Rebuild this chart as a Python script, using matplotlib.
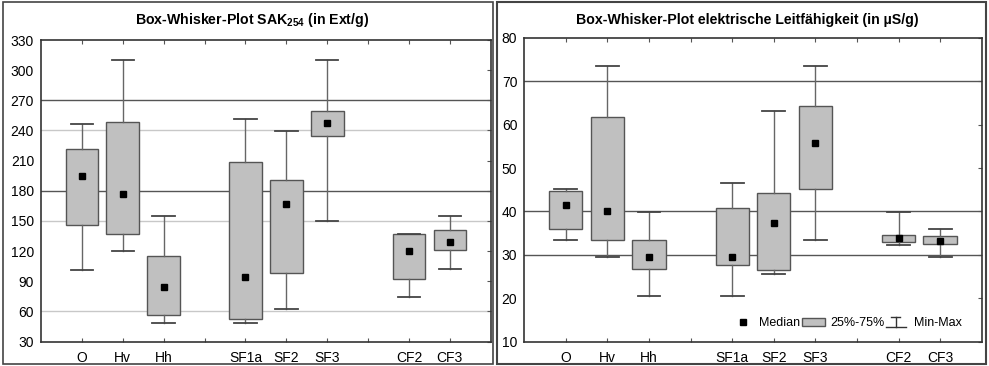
import numpy as np
import matplotlib
matplotlib.use('Agg')
import matplotlib.pyplot as plt
from matplotlib.patches import Rectangle, Patch
from matplotlib.lines import Line2D
from matplotlib.legend_handler import HandlerBase

plt.rcParams['font.family'] = ['Liberation Sans', 'DejaVu Sans']
plt.rcParams['mathtext.fontset'] = 'custom'
plt.rcParams['mathtext.rm'] = 'Liberation Sans'
plt.rcParams['mathtext.bf'] = 'Liberation Sans:bold'

categories = ['O', 'Hv', 'Hh', 'SF1a', 'SF2', 'SF3', 'CF2', 'CF3']
positions = [1, 2, 3, 5, 6, 7, 9, 10]

# SAK254 (Ext/g): min, q1, median, q3, max
sak_min = [101, 120, 48, 48, 62, 150, 74, 102]
sak_q1 = [146, 137, 56, 52, 98, 234, 92, 121]
sak_med = [195, 177, 84, 94, 167, 247, 120, 129]
sak_q3 = [222, 248, 115, 209, 191, 259, 137, 141]
sak_max = [246, 310, 155, 251, 239, 310, 137, 155]

# elektrische Leitfaehigkeit (uS/g)
lf_min = [33.4, 29.6, 20.6, 20.6, 25.6, 33.4, 32.2, 29.6]
lf_q1 = [36.0, 33.3, 26.8, 27.6, 26.4, 45.2, 32.9, 32.5]
lf_med = [41.5, 40.1, 29.4, 29.4, 37.3, 55.8, 33.9, 33.1]
lf_q3 = [44.8, 61.8, 33.4, 40.9, 44.3, 64.3, 34.5, 34.4]
lf_max = [45.2, 73.5, 39.8, 46.6, 63.2, 73.5, 39.8, 36.0]

sak_ticks = np.arange(30, 331, 30)
lf_ticks = np.arange(10, 81, 10)
sak_dark = [180, 270]
sak_light = [60, 150, 240]
lf_dark = [30, 40, 70]


class HandlerMinMax(HandlerBase):
    def create_artists(self, legend, orig_handle, xd, yd, width, height, fontsize, trans):
        cx = xd + width * 0.4
        top = yd + height * 1.05
        bot = yd - height * 0.05
        return [
            Line2D([cx, cx], [bot, top], color='#333', lw=1, transform=trans),
            Line2D([cx - width * 0.2, cx + width * 0.2], [top, top], color='#333', lw=1, transform=trans),
            Line2D([cx - width * 0.45, cx + width * 0.45], [bot, bot], color='#333', lw=1, transform=trans),
        ]


def draw_panel(ax, mins, q1s, meds, q3s, maxs, ylim, yticks, dark, light):
    stats = []
    for lo, a, m, b, hi in zip(mins, q1s, meds, q3s, maxs):
        stats.append({'whislo': lo, 'q1': a, 'med': m, 'mean': m, 'q3': b, 'whishi': hi, 'fliers': []})
    for v in dark:
        ax.axhline(v, color='#555555', lw=1.0, zorder=0)
    for v in light:
        ax.axhline(v, color='#c8c8c8', lw=1.0, zorder=0)
    ax.bxp(stats, positions=positions, widths=0.8, capwidths=0.55, patch_artist=True,
           showmeans=True, showfliers=False,
           boxprops=dict(facecolor='#c0c0c0', edgecolor='#555555', lw=1.0),
           whiskerprops=dict(color='#666666', lw=1.0),
           capprops=dict(color='#444444', lw=1.3),
           medianprops=dict(lw=0),
           meanprops=dict(marker='s', markerfacecolor='k', markeredgecolor='k', markersize=4.5))
    ax.set_xlim(0, 11)
    ax.set_ylim(*ylim)
    ax.set_yticks(yticks)
    ax.set_xticks(range(1, 11))
    labels = [''] * 10
    for c, p in zip(categories, positions):
        labels[p - 1] = c
    ax.set_xticklabels(labels)
    ax.tick_params(axis='x', direction='in', length=3, top=True, labelsize=10, color='#555', pad=7)
    ax.tick_params(axis='y', direction='in', length=3, labelsize=10, pad=5, left=False, right=True,
                   color='#555')
    for s in ax.spines.values():
        s.set_color('#333333')
        s.set_linewidth(1.2)


fig = plt.figure(figsize=(9.89, 3.66), dpi=100)

ax1 = fig.add_axes([0.0415, 0.0669, 0.4547, 0.8238])
draw_panel(ax1, sak_min, sak_q1, sak_med, sak_q3, sak_max, (30, 330), sak_ticks, sak_dark, sak_light)

ax2 = fig.add_axes([0.5301, 0.0669, 0.4625, 0.8293])
draw_panel(ax2, lf_min, lf_q1, lf_med, lf_q3, lf_max, (10, 80), lf_ticks, lf_dark, [])

fig.text(252 / 989, 1 - 20 / 366, r'Box-Whisker-Plot SAK$_{\mathbf{254}}$ (in Ext/g)',
         ha='center', va='center', fontsize=10.2, fontweight='bold')
fig.text(747 / 989, 1 - 20 / 366, 'Box-Whisker-Plot elektrische Leitfähigkeit (in µS/g)',
         ha='center', va='center', fontsize=10.2, fontweight='bold')

h_med = Line2D([], [], marker='s', color='k', linestyle='none', markersize=4.5)
h_box = Patch(facecolor='#c0c0c0', edgecolor='#555555')
h_mm = object()
ax2.legend([h_med, h_box, h_mm], ['Median', '25%-75%', 'Min-Max'],
           handler_map={h_mm: HandlerMinMax()}, ncol=3, frameon=False,
           loc='center right', bbox_to_anchor=(0.968, 0.06), fontsize=9,
           handlelength=1.8, handletextpad=0.4, columnspacing=0.2, borderaxespad=0)

fig.patches.append(Rectangle((3 / 989, 2 / 366), 490 / 989, 362 / 366, transform=fig.transFigure,
                             fill=False, edgecolor='#444444', lw=1.2))
fig.patches.append(Rectangle((497 / 989, 2 / 366), 489 / 989, 362 / 366, transform=fig.transFigure,
                             fill=False, edgecolor='#444444', lw=1.5))

fig.savefig('out.png', dpi=100)
